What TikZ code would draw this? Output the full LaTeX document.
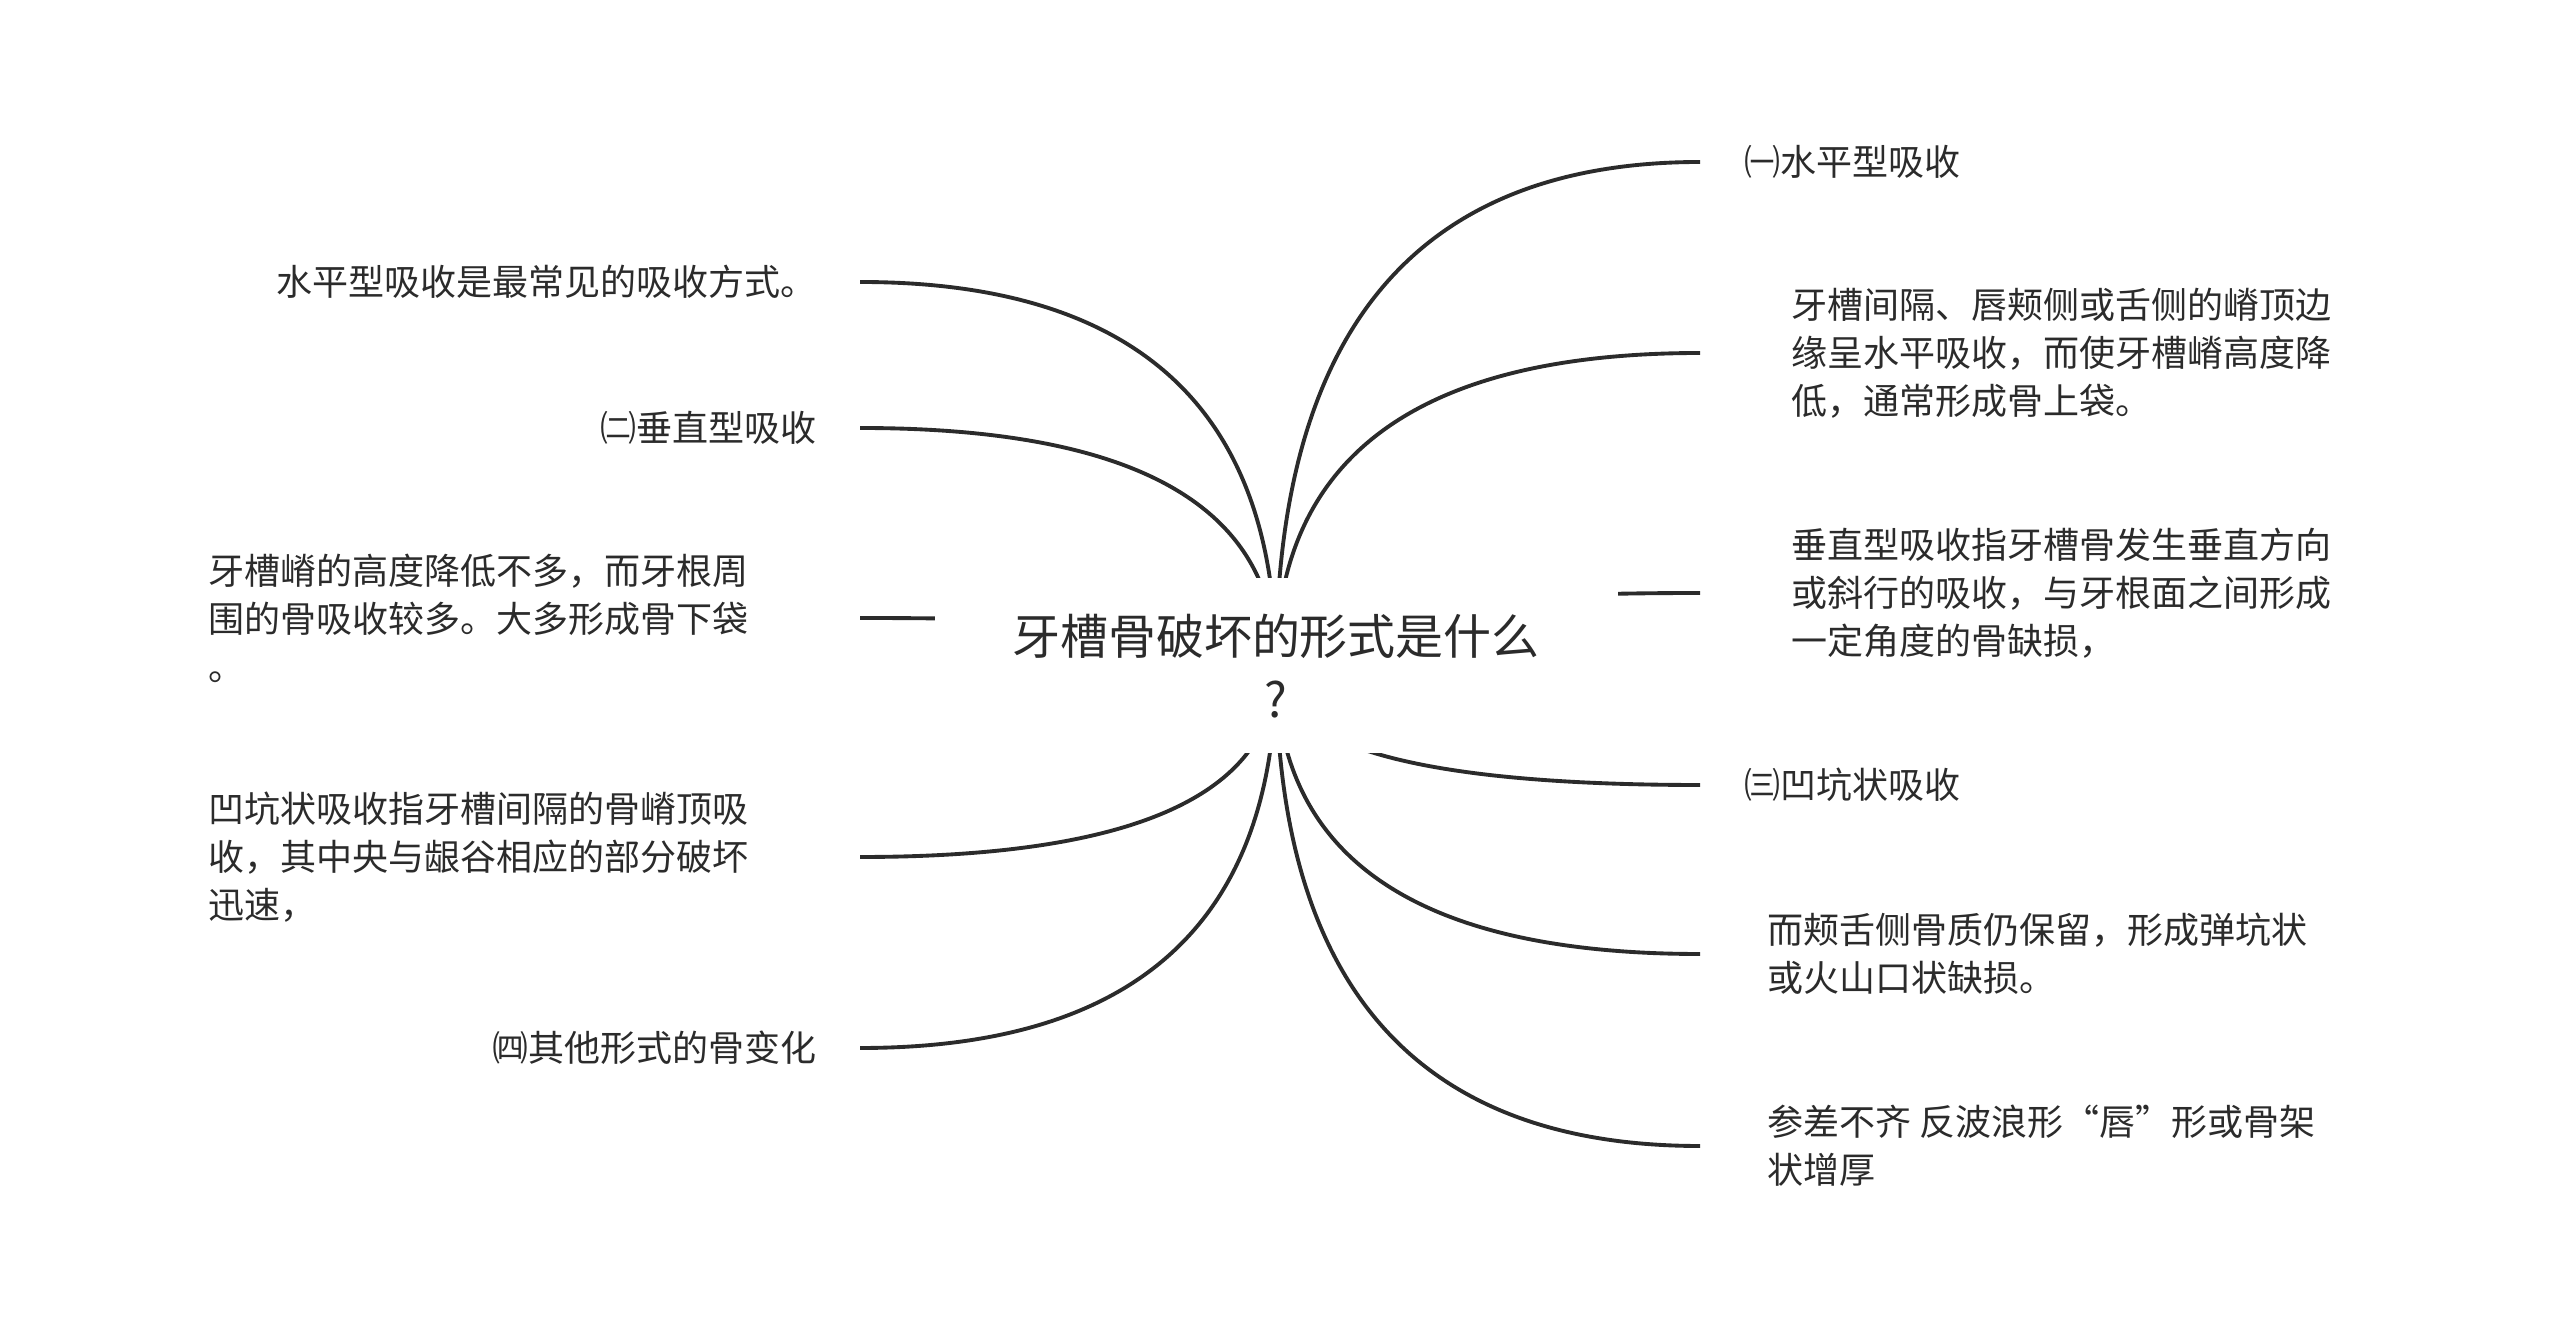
\documentclass[tikz,border=0pt]{standalone}
\usepackage{fontspec}
\newfontfamily\cjk{Noto Sans CJK SC}
\usepackage{tikz}
\usetikzlibrary{calc}
\usetikzlibrary{backgrounds}
\definecolor{ink}{HTML}{2B2B2B}
\tikzset{twig/.style={draw=ink, line width=2.2pt}}
\tikzset{leaf/.style={font={\cjk\fontsize{20.5pt}{27.3pt}\selectfont}, text=ink, inner sep=0pt, outer ysep=0pt}}
\tikzset{rleaf/.style={leaf, anchor=west, align=left}}
\tikzset{lleaf/.style={leaf, anchor=east, align=left}}

\begin{document}
\begin{tikzpicture}
\useasboundingbox (0,0) rectangle (51.2,26.64);
\node[fill=white, minimum width=13.66cm, minimum height=3.5cm, inner sep=0pt, align=center, text=ink,
  font={\cjk\fontsize{27.3pt}{35.8pt}\selectfont}] (root) at (25.52,13.32) {牙槽骨破坏的形式是什么\\?};

\node[rleaf, outer xsep=0.88cm] (r1) at (34,23.40) {㈠水平型吸收};
\node[rleaf, outer xsep=1.82cm] (r2) at (34,19.58) {牙槽间隔、唇颊侧或舌侧的嵴顶边\\缘呈水平吸收，而使牙槽嵴高度降\\低，通常形成骨上袋。};
\node[rleaf, outer xsep=1.82cm] (r3) at (34,14.78) {垂直型吸收指牙槽骨发生垂直方向\\或斜行的吸收，与牙根面之间形成\\一定角度的骨缺损，};
\node[rleaf, outer xsep=0.88cm] (r4) at (34,10.94) {㈢凹坑状吸收};
\node[rleaf, outer xsep=1.34cm] (r5) at (34,7.56) {而颊舌侧骨质仍保留，形成弹坑状\\或火山口状缺损。};
\node[rleaf, outer xsep=1.34cm] (r6) at (34,3.72) {参差不齐 反波浪形“唇”形或骨架\\状增厚};

\node[lleaf, outer xsep=0.86cm, align=right] (l1) at (17.2,21.00) {水平型吸收是最常见的吸收方式。};
\node[lleaf, outer xsep=0.86cm, align=right] (l2) at (17.2,18.08) {㈡垂直型吸收};
\node[lleaf, outer xsep=2.22cm] (l3) at (17.2,14.28) {牙槽嵴的高度降低不多，而牙根周\\围的骨吸收较多。大多形成骨下袋\\。};
\node[lleaf, outer xsep=2.22cm] (l4) at (17.2,9.50) {凹坑状吸收指牙槽间隔的骨嵴顶吸\\收，其中央与龈谷相应的部分破坏\\迅速，};
\node[lleaf, outer xsep=0.86cm, align=right] (l5) at (17.2,5.68) {㈣其他形式的骨变化};

\begin{scope}[on background layer]
\foreach \n in {r1,r2,r3,r4,r5,r6} {
  \draw[twig] (root.center) .. controls ($(root.center)!.667!(root.center|-\n.west)$)
    and ($(\n.west)!.667!(root.center|-\n.west)$) .. (\n.west);
}
\foreach \n in {l1,l2,l3,l4,l5} {
  \draw[twig] (root.center) .. controls ($(root.center)!.667!(root.center|-\n.east)$)
    and ($(\n.east)!.667!(root.center|-\n.east)$) .. (\n.east);
}
\end{scope}
\end{tikzpicture}
\end{document}
